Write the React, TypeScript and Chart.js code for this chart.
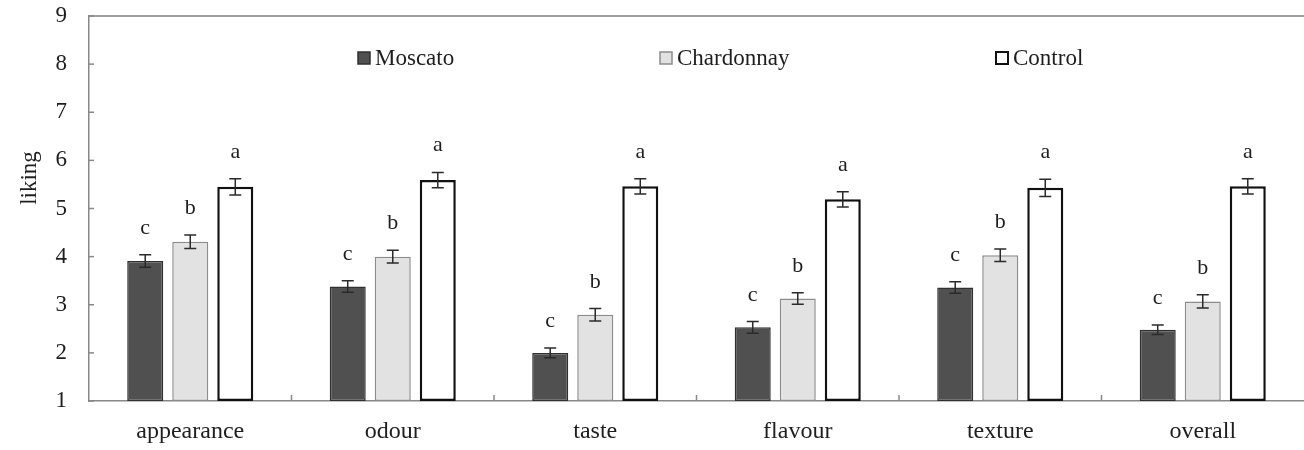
import React, { useEffect, useRef } from "react";
import { Chart, registerables } from "chart.js";

Chart.register(...registerables);

const categories = ["appearance", "odour", "taste", "flavour", "texture", "overall"];
const seriesNames = ["Moscato", "Chardonnay", "Control"];

const moscato = [3.91, 3.38, 2.0, 2.53, 3.36, 2.48];
const chardonnay = [4.31, 4.0, 2.79, 3.13, 4.03, 3.07];
const control = [5.45, 5.59, 5.46, 5.19, 5.43, 5.46];

const moscatoErr = [0.13, 0.12, 0.1, 0.12, 0.12, 0.1];
const chardonnayErr = [0.14, 0.13, 0.13, 0.12, 0.13, 0.14];
const controlErr = [0.17, 0.16, 0.16, 0.16, 0.18, 0.16];

const moscatoLetters = ["c", "c", "c", "c", "c", "c"];
const chardonnayLetters = ["b", "b", "b", "b", "b", "b"];
const controlLetters = ["a", "a", "a", "a", "a", "a"];

const yMin = 1;
const yMax = 9;
const yStep = 1;
const yTitle = "liking";

const SERIF = "'Liberation Serif', 'Times New Roman', serif";

const fills = ["#505050", "#e2e2e2", "#ffffff"];
const borders = ["#303030", "#8c8c8c", "#111111"];
const borderWidths = [1.5, 1.5, 2.5];

const errors = [moscatoErr, chardonnayErr, controlErr];
const letters = [moscatoLetters, chardonnayLetters, controlLetters];

const legendX = [358, 660, 996];

const decorPlugin = {
  id: "decor",
  afterDraw(chart: any) {
    const { ctx, chartArea } = chart;
    const y = chart.scales.y;
    const x = chart.scales.x;
    ctx.save();

    // top frame line
    ctx.strokeStyle = "#a0a0a0";
    ctx.lineWidth = 2;
    ctx.beginPath();
    ctx.moveTo(chartArea.left, chartArea.top);
    ctx.lineTo(chartArea.right, chartArea.top);
    ctx.stroke();

    // inner y ticks
    ctx.strokeStyle = "#888888";
    ctx.lineWidth = 1.5;
    for (let v = yMin; v <= yMax; v += yStep) {
      const py = y.getPixelForValue(v);
      ctx.beginPath();
      ctx.moveTo(chartArea.left, py);
      ctx.lineTo(chartArea.left + 5, py);
      ctx.stroke();
    }
    // inner x ticks at category boundaries
    for (let i = 1; i < categories.length; i++) {
      const px = (x.getPixelForValue(i - 1) + x.getPixelForValue(i)) / 2;
      ctx.beginPath();
      ctx.moveTo(px, chartArea.bottom);
      ctx.lineTo(px, chartArea.bottom - 6);
      ctx.stroke();
    }

    // error bars and letters
    chart.data.datasets.forEach((ds: any, di: number) => {
      const meta = chart.getDatasetMeta(di);
      meta.data.forEach((bar: any, j: number) => {
        const v = ds.data[j];
        const e = errors[di][j];
        const top = y.getPixelForValue(v + e);
        const bot = y.getPixelForValue(v - e);
        ctx.strokeStyle = "#2a2a2a";
        ctx.lineWidth = 1.5;
        ctx.beginPath();
        ctx.moveTo(bar.x, top);
        ctx.lineTo(bar.x, bot);
        ctx.moveTo(bar.x - 6, top);
        ctx.lineTo(bar.x + 6, top);
        ctx.moveTo(bar.x - 6, bot);
        ctx.lineTo(bar.x + 6, bot);
        ctx.stroke();

        ctx.fillStyle = "#1e1e1e";
        ctx.font = `22px ${SERIF}`;
        ctx.textAlign = "center";
        ctx.textBaseline = "alphabetic";
        ctx.fillText(letters[di][j], bar.x, top - 21);
      });
    });

    // legend
    ctx.font = `23px ${SERIF}`;
    ctx.textBaseline = "middle";
    ctx.textAlign = "left";
    seriesNames.forEach((name, i) => {
      const lx = legendX[i];
      const ly = 58;
      ctx.fillStyle = fills[i];
      ctx.fillRect(lx, ly - 6, 12, 12);
      ctx.strokeStyle = borders[i];
      ctx.lineWidth = i === 2 ? 2 : 1.5;
      ctx.strokeRect(lx, ly - 6, 12, 12);
      ctx.fillStyle = "#1e1e1e";
      ctx.fillText(name, lx + 17, ly + 1);
    });

    // y title
    ctx.save();
    ctx.translate(30, 178);
    ctx.rotate(-Math.PI / 2);
    ctx.textAlign = "center";
    ctx.textBaseline = "middle";
    ctx.font = `23px ${SERIF}`;
    ctx.fillStyle = "#1e1e1e";
    ctx.fillText(yTitle, 0, 0);
    ctx.restore();

    ctx.restore();
  },
};

export default function App() {
  const canvasRef = useRef<HTMLCanvasElement | null>(null);

  useEffect(() => {
    if (!canvasRef.current) return;
    const seriesData = [moscato, chardonnay, control];
    const chart = new Chart(canvasRef.current, {
      type: "bar",
      data: {
        labels: categories,
        datasets: seriesNames.map((name, i) => ({
          label: name,
          data: seriesData[i],
          backgroundColor: fills[i],
          borderColor: borders[i],
          borderWidth: borderWidths[i],
          borderSkipped: false,
          base: yMin,
          categoryPercentage: 0.667,
          barPercentage: 0.8,
        })),
      },
      options: {
        animation: false,
        responsive: true,
        maintainAspectRatio: false,
        layout: { padding: { top: 16, right: 0, left: 0, bottom: 0 } },
        plugins: {
          legend: { display: false },
          tooltip: { enabled: false },
        },
        scales: {
          x: {
            grid: { display: false, drawTicks: false, tickLength: 0 },
            border: { display: true, color: "#888888", width: 1.5 },
            ticks: {
              color: "#1e1e1e",
              font: { family: SERIF, size: 24 },
              padding: 16,
              maxRotation: 0,
            },
            afterFit: (scale: any) => {
              scale.height = 49;
              scale.paddingLeft = 0;
              scale.paddingRight = 0;
            },
          },
          y: {
            min: yMin,
            max: yMax,
            grid: { display: false, drawTicks: false, tickLength: 0 },
            border: { display: true, color: "#888888", width: 1.5 },
            ticks: {
              stepSize: yStep,
              color: "#1e1e1e",
              font: { family: SERIF, size: 23 },
              padding: 22,
            },
            afterFit: (scale: any) => {
              scale.width = 89;
              scale.paddingTop = 0;
              scale.paddingBottom = 0;
            },
          },
        },
      },
      plugins: [decorPlugin],
    });
    return () => chart.destroy();
  }, []);

  return (
    <div style={{ position: "fixed", left: 0, top: 0, width: 1304, height: 450, background: "#fff" }}>
      <canvas ref={canvasRef} />
    </div>
  );
}
